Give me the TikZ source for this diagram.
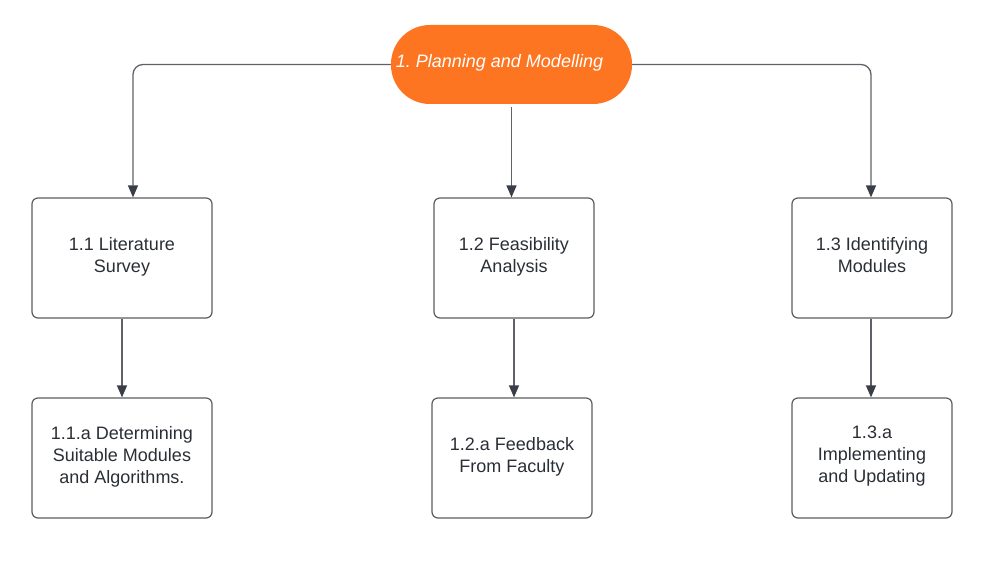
\documentclass[tikz,border=0pt]{standalone}
\usepackage{fontspec}
\setmainfont{Liberation Sans}
\usetikzlibrary{arrows.meta,calc}
\definecolor{orng}{HTML}{FD7520}
\definecolor{lin}{HTML}{5F6369}
\definecolor{tip}{HTML}{3A3F47}
\definecolor{bord}{HTML}{5A5C60}
\definecolor{txt}{HTML}{2A2E35}
\tikzset{
  box/.style={draw=bord, line width=1.2pt, rounded corners=6pt, minimum width=180pt, minimum height=120pt, inner sep=0pt, align=center, text=txt, font=\fontsize{18pt}{22pt}\selectfont, execute at begin node=\strut, execute at end node=\strut},
  nbox/.style={box, minimum width=160pt},
  conn/.style={draw=lin, line width=1.3pt, -{Triangle[width=10pt,length=12pt,fill=tip,color=tip]}},
}
\begin{document}
\frenchspacing
\begin{tikzpicture}[x=1pt,y=-1pt]
\useasboundingbox (0,0) rectangle (997,586);
\node[fill=orng, minimum width=241pt, minimum height=79pt, rounded corners=39pt, inner sep=0pt] (top) at (511.5,64.5) {};
\node[text=white, font=\fontsize{18pt}{22pt}\selectfont\itshape, inner sep=0pt] (toptext) at (499.5,63) {1. Planning and Modelling};
\node[box] (l1) at (122,258) {1.1 Literature\\Survey};
\node[nbox] (l2) at (514,258) {1.2 Feasibility\\Analysis};
\node[nbox] (l3) at (872,258) {1.3 Identifying\\Modules};
\node[box] (l1a) at (122,458) {1.1.a Determining\\Suitable Modules\\and Algorithms.};
\node[nbox] (l2a) at (512,458) {1.2.a Feedback\\From Faculty};
\node[nbox] (l3a) at (872,458) {1.3.a\\Implementing\\and Updating};
\draw[conn, rounded corners=10pt] (top.west) -| ([xshift=11pt]l1.north);
\draw[conn, rounded corners=10pt] (top.east) -| ([xshift=-1pt]l3.north);
\draw[conn] ([yshift=-3pt]top.south) -- (top.south |- l2.north);
\draw[conn] (l1.south) -- (l1.south |- l1a.north);
\draw[conn] (l2.south) -- (l2.south |- l2a.north);
\draw[conn] ([xshift=-1pt]l3.south) -- ([xshift=-1pt]l3.south |- l3a.north);
\end{tikzpicture}
\end{document}
